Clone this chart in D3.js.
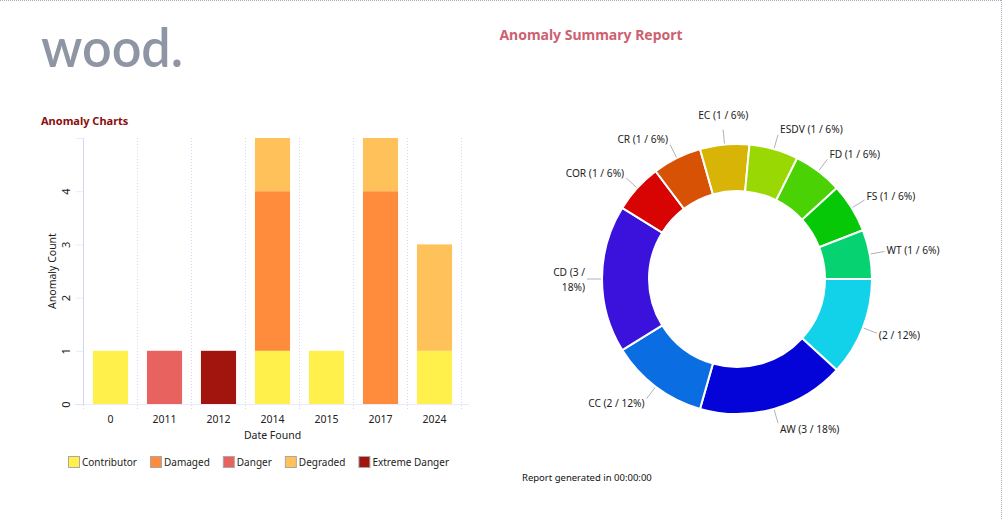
<!DOCTYPE html>
<html>
<head>
<meta charset="utf-8">
<script src="https://cdn.jsdelivr.net/npm/d3@7"></script>
<style>
  body { margin: 0; background: #fff; }
  svg { display: block; font-family: "Noto Sans", "Open Sans", sans-serif; }
</style>
</head>
<body>
<svg id="page" width="1004" height="520"></svg>
<script>
// bar chart data (anomaly count by year found, stacked by severity)
const years = ["0", "2011", "2012", "2014", "2015", "2017", "2024"];
const severities = ["Contributor", "Damaged", "Danger", "Degraded", "Extreme Danger"];
const severityColors = ["#fff04c", "#ff8c3c", "#e8625f", "#ffc25a", "#a2150f"];
const contributor   = [1, 0, 0, 1, 1, 0, 1];
const damaged       = [0, 0, 0, 3, 0, 4, 0];
const danger        = [0, 1, 0, 0, 0, 0, 0];
const degraded      = [0, 0, 0, 1, 0, 1, 2];
const extremeDanger = [0, 0, 1, 0, 0, 0, 0];
const yTicks = [0, 1, 2, 3, 4, 5];

// donut data (anomaly type)
const types = ["", "AW", "CC", "CD", "COR", "CR", "EC", "ESDV", "FD", "FS", "WT"];
const typeCounts = [2, 3, 2, 3, 1, 1, 1, 1, 1, 1, 1];
const typeColors = ["#12d2ea", "#0404d8", "#0a6ee2", "#3a12dc", "#d80404", "#d85206",
                    "#d8b406", "#9ad804", "#4ad204", "#06c806", "#06d272"];

const svg = d3.select("#page");
const axisCol = "#d4d4f4";
const fs = 10.2;

// page border (dotted, top and right)
svg.append("line").attr("x1", 0).attr("x2", 1001).attr("y1", 0.5).attr("y2", 0.5)
    .attr("stroke", "#a8a8b4").attr("stroke-dasharray", "1,1");
svg.append("line").attr("x1", 1001.5).attr("x2", 1001.5).attr("y1", 0).attr("y2", 520)
    .attr("stroke", "#a8a8c4").attr("stroke-dasharray", "1,1");

// logo
svg.append("text").attr("x", 41).attr("y", 67)
    .attr("font-family", "Lato, sans-serif").attr("font-size", 54).attr("font-weight", 600)
    .attr("fill", "#8e96a4").attr("textLength", 142).attr("lengthAdjust", "spacingAndGlyphs")
    .text("wood.");

svg.append("text").attr("x", 591).attr("y", 40).attr("text-anchor", "middle")
    .attr("font-size", 14).attr("font-weight", "bold").attr("fill", "#cc6270")
    .text("Anomaly Summary Report");

svg.append("text").attr("x", 41).attr("y", 125)
    .attr("font-size", 11).attr("font-weight", "bold").attr("fill", "#8a0c0c")
    .text("Anomaly Charts");

svg.append("text").attr("x", 522).attr("y", 481)
    .attr("font-size", 9.5).attr("fill", "#111")
    .text("Report generated in 00:00:00");

// ---- stacked bar chart ----
const plotLeft = 83.5, plotRight = 461.5, plotTop = 138, plotBottom = 404;

const x = d3.scaleBand().domain(years).range([plotLeft, plotRight])
    .paddingInner(0.35).paddingOuter(0.175);
const y = d3.scaleLinear().domain([0, 5]).range([plotBottom, plotTop]);

const rows = years.map((yr, i) => ({
    year: yr,
    "Contributor": contributor[i],
    "Damaged": damaged[i],
    "Danger": danger[i],
    "Degraded": degraded[i],
    "Extreme Danger": extremeDanger[i]
}));
const stacked = d3.stack().keys(severities)(rows);
const color = d3.scaleOrdinal().domain(severities).range(severityColors);

// vertical dotted grid at band edges
const edges = d3.range(years.length + 1).map(k => plotLeft + k * x.step());
svg.append("g").selectAll("line").data(edges).enter().append("line")
    .attr("x1", d => d).attr("x2", d => d).attr("y1", plotTop).attr("y2", plotBottom + 6)
    .attr("stroke", axisCol).attr("stroke-dasharray", "1,2");

svg.append("g").selectAll("g").data(stacked).enter().append("g")
    .attr("fill", d => color(d.key))
    .selectAll("rect").data(d => d).enter().append("rect")
        .attr("x", d => x(d.data.year))
        .attr("y", d => y(d[1]))
        .attr("width", x.bandwidth())
        .attr("height", d => y(d[0]) - y(d[1]));

// y axis
const yAxis = svg.append("g").attr("transform", "translate(" + plotLeft + ",0)")
    .call(d3.axisLeft(y).tickValues(yTicks).tickSize(8).tickPadding(6)
        .tickFormat(d => d === 5 ? "" : d));
yAxis.select(".domain").attr("stroke", axisCol).attr("d", "M0," + plotTop + "V" + plotBottom);
yAxis.selectAll(".tick line").attr("stroke", axisCol).attr("stroke-dasharray", "1,1");
yAxis.selectAll(".tick text")
    .attr("font-size", 11).attr("fill", "#222").attr("font-family", "Noto Sans, sans-serif")
    .attr("x", -17).attr("dy", "0.32em").attr("text-anchor", "middle")
    .attr("transform", "rotate(-90,-17,0)");

// x axis
const xAxis = svg.append("g").attr("transform", "translate(0," + plotBottom + ")")
    .call(d3.axisBottom(x).tickSize(0).tickPadding(12));
xAxis.select(".domain").attr("stroke", axisCol).attr("stroke-dasharray", "1,1")
    .attr("d", "M" + (plotLeft - 8) + ",0.5H" + (plotRight + 8));
xAxis.selectAll(".tick text").attr("font-size", fs + 0.3).attr("fill", "#222")
    .attr("font-family", "Noto Sans, sans-serif");

svg.append("text").attr("x", (plotLeft + plotRight) / 2).attr("y", 439).attr("text-anchor", "middle")
    .attr("font-size", fs + 0.3).attr("fill", "#222").text("Date Found");
svg.append("text").attr("transform", "translate(56,271) rotate(-90)").attr("text-anchor", "middle")
    .attr("font-size", fs + 0.3).attr("fill", "#222").text("Anomaly Count");

// legend
const legend = svg.append("g").attr("transform", "translate(68,456)");
let lx = 0;
severities.forEach((s, i) => {
    const g = legend.append("g").attr("transform", "translate(" + lx + ",0)");
    g.append("rect").attr("x", 0.5).attr("y", 0.5).attr("width", 11).attr("height", 11)
        .attr("fill", severityColors[i]).attr("stroke", "#a8a8a8");
    const t = g.append("text").attr("x", 14).attr("y", 10).attr("font-size", 10)
        .attr("fill", "#222").text(s);
    lx += 14 + t.node().getComputedTextLength() + 13;
});

// ---- donut chart ----
const cx = 737, cy = 279, rOut = 135, rIn = 88;
const total = d3.sum(typeCounts);
const pieData = types.map((t, i) => ({ name: t, value: typeCounts[i], color: typeColors[i] }));
const pie = d3.pie().value(d => d.value).sort(null)
    .startAngle(Math.PI / 2).endAngle(Math.PI / 2 + 2 * Math.PI);
const arcs = pie(pieData);
const arc = d3.arc().innerRadius(rIn).outerRadius(rOut);
const arcA = d3.arc().innerRadius(rOut + 1).outerRadius(rOut + 1);
const arcB = d3.arc().innerRadius(150).outerRadius(150);

const donut = svg.append("g").attr("transform", "translate(" + cx + "," + cy + ")");
donut.selectAll("path").data(arcs).enter().append("path")
    .attr("d", arc).attr("fill", d => d.data.color)
    .attr("stroke", "#fff").attr("stroke-width", 2);

donut.selectAll("polyline").data(arcs).enter().append("polyline")
    .attr("points", d => [arcA.centroid(d), arcB.centroid(d)])
    .attr("fill", "none").attr("stroke", "#9c9ca8").attr("stroke-width", 0.8);

const labels = donut.selectAll("text.lbl").data(arcs).enter().append("text")
    .attr("class", "lbl").attr("font-size", fs).attr("fill", "#222");
labels.each(function(d) {
    const mid = (d.startAngle + d.endAngle) / 2;
    const p = arcB.centroid(d);
    const s = Math.sin(mid), c = Math.cos(mid);
    let anchor = "middle", tx = p[0], ty = p[1] - c * 6;
    if (s > 0.2) { anchor = "start"; tx += 2; }
    else if (s < -0.2) { anchor = "end"; tx -= 2; }
    else { ty -= 8; }
    const pct = Math.round(d.data.value / total * 100);
    const label = (d.data.name + " (" + d.data.value + " / " + pct + "%)").trim();
    const t = d3.select(this).attr("text-anchor", anchor).attr("x", tx).attr("y", ty)
        .attr("dy", "0.35em").text(label);
    // wrap left-side labels that run past the chart area
    const room = anchor === "end" ? (cx + tx) - 545 : 999;
    if (this.getComputedTextLength() > room) {
        const words = label.split(" ");
        const first = words.slice(0, 3).join(" "), second = words.slice(3).join(" ");
        t.text(null);
        t.append("tspan").attr("x", tx).attr("dy", "-0.3em").text(first);
        t.append("tspan").attr("x", tx).attr("dy", "1.45em").text(second);
    }
});
</script>
</body>
</html>
